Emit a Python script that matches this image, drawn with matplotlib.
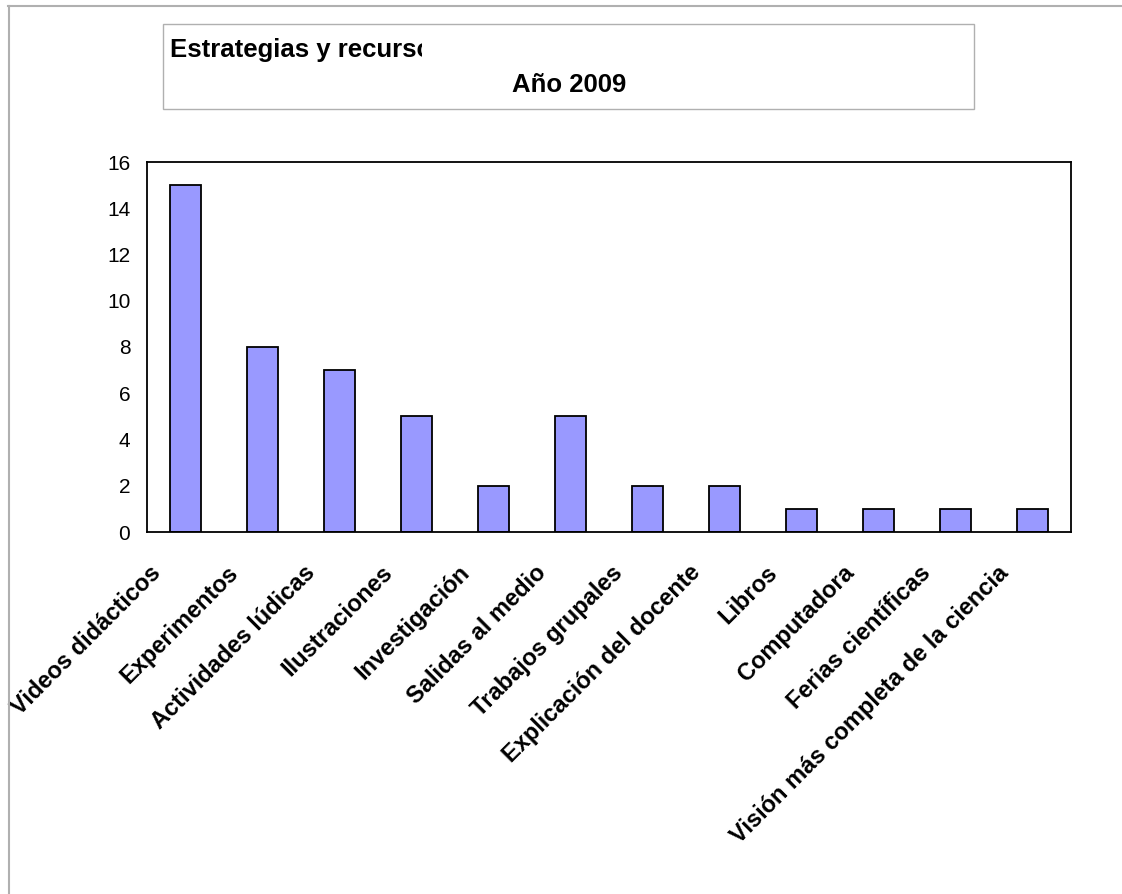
import numpy as np
import matplotlib
matplotlib.use("Agg")
import matplotlib.pyplot as plt
import matplotlib.transforms as mtransforms
from matplotlib.patches import Rectangle
from matplotlib.lines import Line2D

plt.rcParams["font.family"] = ["Liberation Sans", "DejaVu Sans"]

# respuestas por categoria
categorias = ["Videos didácticos", "Experimentos", "Actividades lúdicas",
              "Ilustraciones", "Investigación", "Salidas al medio",
              "Trabajos grupales", "Explicación del docente", "Libros",
              "Computadora", "Ferias científicas",
              "Visión más completa de la ciencia"]
valores = [15, 8, 7, 5, 2, 5, 2, 2, 1, 1, 1, 1]
y_ticks = [0, 2, 4, 6, 8, 10, 12, 14, 16]

W, H = 1122, 894
fig = plt.figure(figsize=(W / 100, H / 100), dpi=100)
fig.patch.set_facecolor("white")

# marco exterior (solo arriba e izquierda)
fig.add_artist(Line2D([8 / W, 1121 / W], [1 - 6 / H, 1 - 6 / H],
                      color="#b0b0b0", lw=1.5))
fig.add_artist(Line2D([9 / W, 9 / W], [1 - 6 / H, 0], color="#b0b0b0", lw=1.5))

# caja del titulo
fig.add_artist(Rectangle((163 / W, 1 - 109 / H), (974 - 163) / W, 85 / H,
                         transform=fig.transFigure, facecolor="white",
                         edgecolor="#b0b0b0", lw=1.0))
t1 = fig.text(170 / W, 1 - 50 / H, "Estrategias y recursos didácticos",
              fontsize=18.5, fontweight="bold", va="center", ha="left")
t1.set_clip_path(Rectangle((163 / W, 0), (422 - 163) / W, 1,
                           transform=fig.transFigure))
fig.text(569 / W, 1 - 85 / H, "Año 2009", fontsize=18.5, fontweight="bold",
         va="center", ha="center")

ax = fig.add_axes([147 / W, 1 - 532 / H, (1071 - 147) / W, (532 - 162) / H])
x = np.arange(len(categorias))
ax.bar(x, valores, width=0.4, color="#9999ff", edgecolor="black", lw=1.3)
ax.set_xlim(-0.5, len(categorias) - 0.5)
ax.set_ylim(0, 16)
ax.set_yticks(y_ticks)
ax.set_yticklabels([str(v) for v in y_ticks], fontsize=15)
ax.set_xticks(x)
ax.set_xticklabels(categorias, rotation=45, ha="right", va="top",
                   rotation_mode="anchor", fontsize=17, fontweight="bold")
ax.tick_params(axis="both", length=0)
ax.tick_params(axis="y", pad=12)
ax.tick_params(axis="x", pad=21)
# desplazar las etiquetas rotadas hacia la izquierda
shift = mtransforms.ScaledTranslation(-36 / 100, 0, fig.dpi_scale_trans)
for lbl in ax.get_xticklabels():
    lbl.set_transform(lbl.get_transform() + shift)
for s in ax.spines.values():
    s.set_linewidth(1.3)

fig.savefig("out.png", dpi=100)
